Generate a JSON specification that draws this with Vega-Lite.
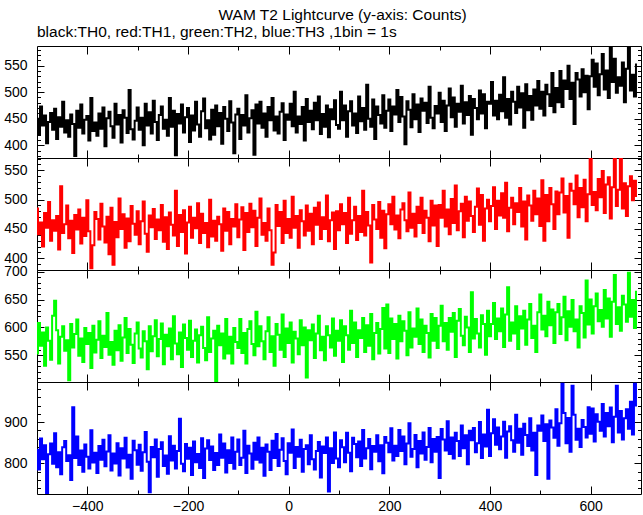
{
"$schema": "https://vega.github.io/schema/vega-lite/v6.json",
"background": "white",
"padding": {"left": 3, "top": 8, "right": 2, "bottom": 0},
"title": {"text": "WAM T2 Lightcurve (y-axis: Counts)", "anchor": "middle", "dx": 20, "fontSize": 15.5, "fontWeight": "normal", "font": "Liberation Sans", "color": "black", "offset": 1},
"data": {"values": [
{"t":-500,"a":450,"b":485,"c":553,"d":833},{"t":-496,"a":420,"b":441,"c":608,"d":785},{"t":-492,"a":473,"b":461,"c":567,"d":860},{"t":-488,"a":437,"b":420,"c":591,"d":810},{"t":-484,"a":456,"b":477,"c":531,"d":844},
{"t":-480,"a":404,"b":452,"c":600,"d":728},{"t":-476,"a":444,"b":496,"c":576,"d":822},{"t":-472,"a":461,"b":430,"c":542,"d":848},{"t":-468,"a":429,"b":465,"c":621,"d":799},{"t":-464,"a":469,"b":447,"c":648,"d":873},
{"t":-460,"a":412,"b":472,"c":595,"d":791},{"t":-456,"a":453,"b":415,"c":535,"d":827},{"t":-452,"a":435,"b":523,"c":583,"d":774},{"t":-448,"a":482,"b":443,"c":602,"d":839},{"t":-444,"a":424,"b":458,"c":558,"d":854},
{"t":-440,"a":447,"b":490,"c":577,"d":806},{"t":-436,"a":416,"b":434,"c":505,"d":820},{"t":-432,"a":458,"b":464,"c":606,"d":760},{"t":-428,"a":440,"b":409,"c":564,"d":936},{"t":-424,"a":380,"b":474,"c":588,"d":813},
{"t":-420,"a":465,"b":449,"c":614,"d":865},{"t":-416,"a":433,"b":483,"c":549,"d":796},{"t":-412,"a":477,"b":425,"c":580,"d":831},{"t":-408,"a":422,"b":469,"c":538,"d":780},{"t":-404,"a":448,"b":438,"c":599,"d":846},
{"t":-400,"a":455,"b":499,"c":570,"d":816},{"t":-396,"a":409,"b":446,"c":590,"d":788},{"t":-392,"a":489,"b":383,"c":527,"d":880},{"t":-388,"a":427,"b":422,"c":603,"d":802},{"t":-384,"a":443,"b":479,"c":555,"d":826},
{"t":-380,"a":418,"b":467,"c":578,"d":777},{"t":-376,"a":460,"b":432,"c":611,"d":842},{"t":-372,"a":431,"b":493,"c":545,"d":809},{"t":-368,"a":471,"b":454,"c":585,"d":857},{"t":-364,"a":398,"b":427,"c":565,"d":793},
{"t":-360,"a":451,"b":471,"c":626,"d":829},{"t":-356,"a":463,"b":407,"c":551,"d":868},{"t":-352,"a":436,"b":486,"c":574,"d":783},{"t":-348,"a":414,"b":389,"c":533,"d":824},{"t":-344,"a":478,"b":462,"c":594,"d":800},
{"t":-340,"a":439,"b":436,"c":559,"d":849},{"t":-336,"a":457,"b":502,"c":604,"d":771},{"t":-332,"a":405,"b":450,"c":540,"d":837},{"t":-328,"a":466,"b":475,"c":582,"d":812},{"t":-324,"a":452,"b":418,"c":617,"d":862},
{"t":-320,"a":423,"b":468,"c":554,"d":790},{"t":-316,"a":504,"b":429,"c":597,"d":821},{"t":-312,"a":430,"b":489,"c":569,"d":763},{"t":-308,"a":411,"b":459,"c":536,"d":855},{"t":-304,"a":446,"b":440,"c":589,"d":832},
{"t":-300,"a":471,"b":480,"c":609,"d":797},{"t":-296,"a":429,"b":424,"c":562,"d":845},{"t":-292,"a":452,"b":463,"c":546,"d":782},{"t":-288,"a":400,"b":497,"c":593,"d":827},{"t":-284,"a":478,"b":442,"c":575,"d":876},
{"t":-280,"a":437,"b":411,"c":525,"d":804},{"t":-276,"a":462,"b":473,"c":602,"d":730},{"t":-272,"a":422,"b":453,"c":557,"d":840},{"t":-268,"a":484,"b":484,"c":584,"d":815},{"t":-264,"a":444,"b":433,"c":613,"d":858},
{"t":-260,"a":410,"b":466,"c":548,"d":768},{"t":-256,"a":457,"b":448,"c":579,"d":835},{"t":-252,"a":473,"b":491,"c":607,"d":851},{"t":-248,"a":431,"b":428,"c":534,"d":794},{"t":-244,"a":448,"b":470,"c":587,"d":819},
{"t":-240,"a":418,"b":416,"c":566,"d":775},{"t":-236,"a":489,"b":478,"c":598,"d":866},{"t":-232,"a":435,"b":457,"c":543,"d":807},{"t":-228,"a":465,"b":439,"c":620,"d":843},{"t":-224,"a":381,"b":515,"c":571,"d":788},
{"t":-220,"a":459,"b":421,"c":552,"d":830},{"t":-216,"a":441,"b":474,"c":591,"d":908},{"t":-212,"a":477,"b":445,"c":529,"d":799},{"t":-208,"a":424,"b":482,"c":605,"d":781},{"t":-204,"a":453,"b":408,"c":581,"d":847},
{"t":-200,"a":470,"b":461,"c":560,"d":811},{"t":-196,"a":406,"b":488,"c":612,"d":838},{"t":-192,"a":456,"b":435,"c":547,"d":772},{"t":-188,"a":428,"b":469,"c":576,"d":853},{"t":-184,"a":482,"b":451,"c":596,"d":803},
{"t":-180,"a":439,"b":494,"c":537,"d":823},{"t":-176,"a":416,"b":426,"c":586,"d":789},{"t":-172,"a":464,"b":476,"c":601,"d":861},{"t":-168,"a":488,"b":443,"c":563,"d":765},{"t":-164,"a":432,"b":460,"c":541,"d":836},
{"t":-160,"a":447,"b":419,"c":618,"d":856},{"t":-156,"a":411,"b":500,"c":556,"d":808},{"t":-152,"a":467,"b":437,"c":580,"d":841},{"t":-148,"a":420,"b":464,"c":594,"d":784},{"t":-144,"a":475,"b":430,"c":503,"d":825},
{"t":-140,"a":436,"b":471,"c":603,"d":796},{"t":-136,"a":461,"b":458,"c":568,"d":870},{"t":-132,"a":403,"b":413,"c":589,"d":814},{"t":-128,"a":472,"b":485,"c":544,"d":848},{"t":-124,"a":450,"b":447,"c":615,"d":778},
{"t":-120,"a":427,"b":479,"c":553,"d":832},{"t":-116,"a":483,"b":424,"c":583,"d":801},{"t":-112,"a":443,"b":467,"c":535,"d":863},{"t":-108,"a":385,"b":454,"c":599,"d":787},{"t":-104,"a":458,"b":492,"c":574,"d":828},
{"t":-100,"a":469,"b":436,"c":563,"d":858},{"t":-96,"a":412,"b":466,"c":615,"d":796},{"t":-92,"a":457,"b":487,"c":554,"d":814},{"t":-88,"a":437,"b":414,"c":590,"d":879},{"t":-84,"a":494,"b":477,"c":535,"d":777},
{"t":-80,"a":424,"b":445,"c":597,"d":843},{"t":-76,"a":451,"b":493,"c":611,"d":824},{"t":-72,"a":466,"b":453,"c":570,"d":787},{"t":-68,"a":382,"b":481,"c":550,"d":850},{"t":-64,"a":477,"b":421,"c":628,"d":809},
{"t":-60,"a":441,"b":469,"c":566,"d":863},{"t":-56,"a":482,"b":502,"c":602,"d":802},{"t":-52,"a":433,"b":440,"c":575,"d":838},{"t":-48,"a":460,"b":460,"c":543,"d":770},{"t":-44,"a":416,"b":430,"c":593,"d":846},
{"t":-40,"a":472,"b":485,"c":618,"d":828},{"t":-36,"a":447,"b":448,"c":556,"d":784},{"t":-32,"a":489,"b":389,"c":584,"d":855},{"t":-28,"a":428,"b":410,"c":531,"d":813},{"t":-24,"a":454,"b":491,"c":606,"d":871},
{"t":-20,"a":422,"b":455,"c":587,"d":794},{"t":-16,"a":463,"b":479,"c":560,"d":833},{"t":-12,"a":479,"b":426,"c":623,"d":861},{"t":-8,"a":410,"b":498,"c":547,"d":806},{"t":-4,"a":458,"b":443,"c":598,"d":774},
{"t":0,"a":448,"b":467,"c":572,"d":849},{"t":4,"a":478,"b":435,"c":609,"d":826},{"t":8,"a":436,"b":505,"c":537,"d":882},{"t":12,"a":501,"b":452,"c":592,"d":789},{"t":16,"a":424,"b":472,"c":580,"d":840},
{"t":20,"a":454,"b":418,"c":552,"d":816},{"t":24,"a":440,"b":482,"c":613,"d":857},{"t":28,"a":472,"b":463,"c":568,"d":780},{"t":32,"a":409,"b":439,"c":600,"d":835},{"t":36,"a":487,"b":490,"c":510,"d":844},
{"t":40,"a":444,"b":447,"c":595,"d":798},{"t":44,"a":465,"b":476,"c":577,"d":868},{"t":48,"a":430,"b":424,"c":605,"d":810},{"t":52,"a":480,"b":486,"c":545,"d":785},{"t":56,"a":447,"b":457,"c":589,"d":830},
{"t":60,"a":492,"b":495,"c":621,"d":852},{"t":64,"a":421,"b":433,"c":559,"d":766},{"t":68,"a":459,"b":470,"c":583,"d":841},{"t":72,"a":435,"b":450,"c":541,"d":825},{"t":76,"a":475,"b":507,"c":602,"d":863},
{"t":80,"a":415,"b":429,"c":586,"d":732},{"t":84,"a":468,"b":465,"c":564,"d":837},{"t":88,"a":449,"b":478,"c":616,"d":801},{"t":92,"a":485,"b":416,"c":549,"d":875},{"t":96,"a":438,"b":480,"c":594,"d":812},
{"t":100,"a":431,"b":448,"c":576,"d":791},{"t":104,"a":501,"b":492,"c":613,"d":856},{"t":108,"a":447,"b":458,"c":538,"d":839},{"t":112,"a":475,"b":477,"c":602,"d":803},{"t":116,"a":416,"b":426,"c":586,"d":874},
{"t":120,"a":464,"b":503,"c":560,"d":826},{"t":124,"a":483,"b":442,"c":630,"d":781},{"t":128,"a":437,"b":465,"c":572,"d":862},{"t":132,"a":460,"b":488,"c":609,"d":847},{"t":136,"a":423,"b":431,"c":547,"d":815},
{"t":140,"a":492,"b":472,"c":595,"d":853},{"t":144,"a":445,"b":445,"c":581,"d":794},{"t":148,"a":470,"b":515,"c":617,"d":881},{"t":152,"a":429,"b":439,"c":556,"d":812},{"t":156,"a":514,"b":479,"c":604,"d":837},
{"t":160,"a":450,"b":456,"c":567,"d":859},{"t":164,"a":435,"b":393,"c":624,"d":786},{"t":168,"a":486,"b":491,"c":543,"d":842},{"t":172,"a":412,"b":466,"c":590,"d":828},{"t":176,"a":473,"b":450,"c":608,"d":868},
{"t":180,"a":457,"b":496,"c":553,"d":805},{"t":184,"a":441,"b":435,"c":597,"d":844},{"t":188,"a":494,"b":481,"c":635,"d":776},{"t":192,"a":433,"b":417,"c":562,"d":864},{"t":196,"a":465,"b":475,"c":641,"d":850},
{"t":200,"a":486,"b":492,"c":554,"d":827},{"t":204,"a":427,"b":458,"c":616,"d":885},{"t":208,"a":473,"b":505,"c":579,"d":807},{"t":212,"a":458,"b":449,"c":606,"d":843},{"t":216,"a":504,"b":473,"c":544,"d":818},
{"t":220,"a":444,"b":434,"c":621,"d":881},{"t":224,"a":491,"b":483,"c":575,"d":830},{"t":228,"a":454,"b":494,"c":611,"d":865},{"t":232,"a":402,"b":465,"c":594,"d":798},{"t":236,"a":483,"b":446,"c":550,"d":848},
{"t":240,"a":467,"b":512,"c":627,"d":897},{"t":244,"a":434,"b":452,"c":564,"d":816},{"t":248,"a":496,"b":476,"c":598,"d":835},{"t":252,"a":449,"b":437,"c":583,"d":869},{"t":256,"a":477,"b":488,"c":634,"d":791},
{"t":260,"a":425,"b":460,"c":570,"d":854},{"t":264,"a":488,"b":503,"c":614,"d":824},{"t":268,"a":465,"b":443,"c":556,"d":875},{"t":272,"a":480,"b":481,"c":603,"d":809},{"t":276,"a":442,"b":469,"c":590,"d":840},
{"t":280,"a":510,"b":429,"c":546,"d":886},{"t":284,"a":452,"b":498,"c":624,"d":803},{"t":288,"a":432,"b":456,"c":576,"d":859},{"t":292,"a":474,"b":490,"c":617,"d":828},{"t":296,"a":460,"b":421,"c":563,"d":864},
{"t":300,"a":499,"b":491,"c":603,"d":765},{"t":304,"a":444,"b":469,"c":639,"d":883},{"t":308,"a":484,"b":515,"c":575,"d":858},{"t":312,"a":427,"b":454,"c":608,"d":831},{"t":316,"a":475,"b":483,"c":560,"d":902},
{"t":320,"a":507,"b":441,"c":617,"d":823},{"t":324,"a":453,"b":501,"c":592,"d":863},{"t":328,"a":490,"b":460,"c":626,"d":812},{"t":332,"a":435,"b":524,"c":547,"d":874},{"t":336,"a":478,"b":448,"c":612,"d":854},
{"t":340,"a":463,"b":480,"c":633,"d":818},{"t":344,"a":512,"b":493,"c":585,"d":892},{"t":348,"a":441,"b":436,"c":568,"d":837},{"t":352,"a":481,"b":505,"c":619,"d":868},{"t":356,"a":457,"b":464,"c":600,"d":798},
{"t":360,"a":493,"b":497,"c":556,"d":879},{"t":364,"a":420,"b":472,"c":663,"d":856},{"t":368,"a":487,"b":445,"c":580,"d":886},{"t":372,"a":470,"b":488,"c":615,"d":827},{"t":376,"a":449,"b":519,"c":589,"d":849},
{"t":380,"a":503,"b":457,"c":564,"d":900},{"t":384,"a":460,"b":508,"c":622,"d":813},{"t":388,"a":496,"b":430,"c":606,"d":870},{"t":392,"a":432,"b":485,"c":551,"d":841},{"t":396,"a":482,"b":500,"c":630,"d":930},
{"t":400,"a":478,"b":463,"c":584,"d":818},{"t":404,"a":519,"b":489,"c":606,"d":873},{"t":408,"a":456,"b":521,"c":644,"d":907},{"t":412,"a":484,"b":450,"c":579,"d":845},{"t":416,"a":449,"b":498,"c":616,"d":887},
{"t":420,"a":495,"b":473,"c":593,"d":834},{"t":424,"a":464,"b":511,"c":634,"d":865},{"t":428,"a":528,"b":469,"c":565,"d":901},{"t":432,"a":452,"b":529,"c":623,"d":814},{"t":436,"a":487,"b":446,"c":672,"d":877},
{"t":440,"a":439,"b":486,"c":576,"d":890},{"t":444,"a":501,"b":503,"c":609,"d":856},{"t":448,"a":482,"b":458,"c":589,"d":828},{"t":452,"a":461,"b":494,"c":638,"d":918},{"t":456,"a":510,"b":479,"c":561,"d":850},
{"t":460,"a":471,"b":520,"c":620,"d":884},{"t":464,"a":498,"b":454,"c":598,"d":821},{"t":468,"a":433,"b":497,"c":630,"d":896},{"t":472,"a":515,"b":432,"c":569,"d":869},{"t":476,"a":466,"b":507,"c":614,"d":842},
{"t":480,"a":493,"b":490,"c":642,"d":909},{"t":484,"a":448,"b":464,"c":581,"d":831},{"t":488,"a":505,"b":515,"c":603,"d":874},{"t":492,"a":475,"b":475,"c":556,"d":772},{"t":496,"a":521,"b":502,"c":627,"d":892},
{"t":500,"a":469,"b":455,"c":659,"d":879},{"t":504,"a":501,"b":533,"c":596,"d":916},{"t":508,"a":456,"b":430,"c":621,"d":854},{"t":512,"a":514,"b":508,"c":584,"d":895},{"t":516,"a":496,"b":463,"c":646,"d":763},
{"t":520,"a":474,"b":520,"c":604,"d":904},{"t":524,"a":536,"b":492,"c":632,"d":887},{"t":528,"a":462,"b":450,"c":572,"d":862},{"t":532,"a":508,"b":514,"c":627,"d":931},{"t":536,"a":481,"b":475,"c":642,"d":843},
{"t":540,"a":540,"b":512,"c":588,"d":897},{"t":544,"a":472,"b":536,"c":618,"d":993},{"t":548,"a":522,"b":478,"c":655,"d":922},{"t":552,"a":506,"b":506,"c":577,"d":849},{"t":556,"a":550,"b":435,"c":629,"d":910},
{"t":560,"a":487,"b":527,"c":601,"d":828},{"t":564,"a":518,"b":515,"c":649,"d":988},{"t":568,"a":440,"b":492,"c":593,"d":918},{"t":572,"a":536,"b":541,"c":614,"d":857},{"t":576,"a":524,"b":470,"c":564,"d":884},
{"t":580,"a":492,"b":520,"c":638,"d":840},{"t":584,"a":543,"b":487,"c":626,"d":905},{"t":588,"a":500,"b":534,"c":582,"d":888},{"t":592,"a":531,"b":463,"c":684,"d":863},{"t":596,"a":468,"b":509,"c":605,"d":936},
{"t":600,"a":530,"b":572,"c":650,"d":872},{"t":604,"a":561,"b":491,"c":589,"d":933},{"t":608,"a":510,"b":513,"c":638,"d":853},{"t":612,"a":554,"b":482,"c":661,"d":919},{"t":616,"a":494,"b":535,"c":611,"d":901},
{"t":620,"a":534,"b":504,"c":631,"d":879},{"t":624,"a":572,"b":549,"c":601,"d":944},{"t":628,"a":505,"b":477,"c":667,"d":865},{"t":632,"a":541,"b":526,"c":616,"d":922},{"t":636,"a":489,"b":538,"c":652,"d":890},
{"t":640,"a":587,"b":468,"c":583,"d":935},{"t":644,"a":519,"b":521,"c":646,"d":851},{"t":648,"a":563,"b":571,"c":694,"d":913},{"t":652,"a":499,"b":489,"c":606,"d":988},{"t":656,"a":528,"b":517,"c":636,"d":875},
{"t":660,"a":512,"b":572,"c":594,"d":927},{"t":664,"a":556,"b":485,"c":657,"d":858},{"t":668,"a":481,"b":528,"c":641,"d":909},{"t":672,"a":544,"b":472,"c":610,"d":931},{"t":676,"a":585,"b":523,"c":698,"d":884},
{"t":680,"a":503,"b":540,"c":619,"d":949},{"t":684,"a":533,"b":499,"c":649,"d":870},{"t":688,"a":492,"b":532,"c":599,"d":993},{"t":692,"a":552,"b":506,"c":664,"d":940}
]},
"spacing": 0,
"bounds": "flush",
"config": {
  "view": {"stroke": "black", "strokeWidth": 1},
  "font": "Liberation Sans",
  "axis": {"domain": false, "grid": false, "labelFont": "Liberation Sans", "labelFontSize": 14, "labelColor": "black", "tickColor": "black", "tickWidth": 1, "labelFlush": false, "labelOverlap": false, "labelBound": false}
},
"vconcat": [
{
  "width": 604, "height": 112,
  "title": {"text": "black:TH0, red:TH1, green:TH2, blue:TH3 ,1bin = 1s", "anchor": "start", "frame": "group", "fontSize": 15.5, "fontWeight": "normal", "font": "Liberation Sans", "color": "black", "offset": 2},
  "layer": [
    {"mark": {"type": "line", "interpolate": "step", "color": "black", "strokeWidth": 2, "clip": true},
     "encoding": {
       "x": {"field": "t", "type": "quantitative", "title": null, "scale": {"domain": [-500, 700], "nice": false, "zero": false},
             "axis": {"orient": "bottom", "values": [-400,-300,-200,-100,0,100,200,300,400,500,600], "labels": false, "tickSize": {"expr": "datum.value % 200 === 0 ? -8 : -4"}}},
       "y": {"field": "a", "type": "quantitative", "title": null, "scale": {"domain": [376, 587], "nice": false, "zero": false},
             "axis": {"orient": "left", "values": [380,390,400,410,420,430,440,450,460,470,480,490,500,510,520,530,540,550,560,570,580], "labelExpr": "datum.value % 50 === 0 ? datum.label : ''", "tickSize": {"expr": "datum.value % 50 === 0 ? -7 : -3.5"}, "labelPadding": 17}}
     }},
    {"mark": {"type": "line", "opacity": 0},
     "encoding": {
       "x": {"field": "t", "type": "quantitative", "title": null, "scale": {"domain": [-500, 700], "nice": false, "zero": false},
             "axis": {"orient": "top", "values": [-400,-300,-200,-100,0,100,200,300,400,500,600], "labels": false, "tickSize": {"expr": "datum.value % 200 === 0 ? -8 : -4"}}},
       "y": {"field": "a", "type": "quantitative", "title": null, "scale": {"domain": [376, 587], "nice": false, "zero": false},
             "axis": {"orient": "right", "values": [380,390,400,410,420,430,440,450,460,470,480,490,500,510,520,530,540,550,560,570,580], "labels": false, "tickSize": {"expr": "datum.value % 50 === 0 ? -7 : -3.5"}}}
     }}
  ],
  "resolve": {"axis": {"x": "independent", "y": "independent"}}
},
{
  "width": 604, "height": 112,
  "layer": [
    {"mark": {"type": "line", "interpolate": "step", "color": "#ff0000", "strokeWidth": 2, "clip": true},
     "encoding": {
       "x": {"field": "t", "type": "quantitative", "title": null, "scale": {"domain": [-500, 700], "nice": false, "zero": false},
             "axis": {"orient": "bottom", "values": [-400,-300,-200,-100,0,100,200,300,400,500,600], "labels": false, "tickSize": {"expr": "datum.value % 200 === 0 ? -8 : -4"}}},
       "y": {"field": "b", "type": "quantitative", "title": null, "scale": {"domain": [380, 571], "nice": false, "zero": false},
             "axis": {"orient": "left", "values": [390,400,410,420,430,440,450,460,470,480,490,500,510,520,530,540,550,560,570], "labelExpr": "datum.value % 50 === 0 ? datum.label : ''", "tickSize": {"expr": "datum.value % 50 === 0 ? -7 : -3.5"}, "labelPadding": 17}}
     }},
    {"mark": {"type": "line", "opacity": 0},
     "encoding": {
       "x": {"field": "t", "type": "quantitative", "title": null, "scale": {"domain": [-500, 700], "nice": false, "zero": false},
             "axis": {"orient": "top", "values": [-400,-300,-200,-100,0,100,200,300,400,500,600], "labels": false, "tickSize": {"expr": "datum.value % 200 === 0 ? -8 : -4"}}},
       "y": {"field": "b", "type": "quantitative", "title": null, "scale": {"domain": [380, 571], "nice": false, "zero": false},
             "axis": {"orient": "right", "values": [390,400,410,420,430,440,450,460,470,480,490,500,510,520,530,540,550,560,570], "labels": false, "tickSize": {"expr": "datum.value % 50 === 0 ? -7 : -3.5"}}}
     }}
  ],
  "resolve": {"axis": {"x": "independent", "y": "independent"}}
},
{
  "width": 604, "height": 112,
  "layer": [
    {"mark": {"type": "line", "interpolate": "step", "color": "#00ff00", "strokeWidth": 2, "clip": true},
     "encoding": {
       "x": {"field": "t", "type": "quantitative", "title": null, "scale": {"domain": [-500, 700], "nice": false, "zero": false},
             "axis": {"orient": "bottom", "values": [-400,-300,-200,-100,0,100,200,300,400,500,600], "labels": false, "tickSize": {"expr": "datum.value % 200 === 0 ? -8 : -4"}}},
       "y": {"field": "c", "type": "quantitative", "title": null, "scale": {"domain": [502, 703], "nice": false, "zero": false},
             "axis": {"orient": "left", "values": [510,520,530,540,550,560,570,580,590,600,610,620,630,640,650,660,670,680,690,700], "labelExpr": "datum.value % 50 === 0 ? datum.label : ''", "tickSize": {"expr": "datum.value % 50 === 0 ? -7 : -3.5"}, "labelPadding": 17}}
     }},
    {"mark": {"type": "line", "opacity": 0},
     "encoding": {
       "x": {"field": "t", "type": "quantitative", "title": null, "scale": {"domain": [-500, 700], "nice": false, "zero": false},
             "axis": {"orient": "top", "values": [-400,-300,-200,-100,0,100,200,300,400,500,600], "labels": false, "tickSize": {"expr": "datum.value % 200 === 0 ? -8 : -4"}}},
       "y": {"field": "c", "type": "quantitative", "title": null, "scale": {"domain": [502, 703], "nice": false, "zero": false},
             "axis": {"orient": "right", "values": [510,520,530,540,550,560,570,580,590,600,610,620,630,640,650,660,670,680,690,700], "labels": false, "tickSize": {"expr": "datum.value % 50 === 0 ? -7 : -3.5"}}}
     }}
  ],
  "resolve": {"axis": {"x": "independent", "y": "independent"}}
},
{
  "width": 604, "height": 112,
  "layer": [
    {"mark": {"type": "line", "interpolate": "step", "color": "#0000ff", "strokeWidth": 2, "clip": true},
     "encoding": {
       "x": {"field": "t", "type": "quantitative", "title": null, "scale": {"domain": [-500, 700], "nice": false, "zero": false},
             "axis": {"orient": "bottom", "values": [-400,-300,-200,-100,0,100,200,300,400,500,600], "labelExpr": "datum.value % 200 === 0 ? datum.label : ''", "tickSize": {"expr": "datum.value % 200 === 0 ? -8 : -4"}, "labelPadding": 13}},
       "y": {"field": "d", "type": "quantitative", "title": null, "scale": {"domain": [726, 997], "nice": false, "zero": false},
             "axis": {"orient": "left", "values": [740,760,780,800,820,840,860,880,900,920,940,960,980], "labelExpr": "datum.value % 100 === 0 ? datum.label : ''", "tickSize": {"expr": "datum.value % 100 === 0 ? -7 : -3.5"}, "labelPadding": 17}}
     }},
    {"mark": {"type": "line", "opacity": 0},
     "encoding": {
       "x": {"field": "t", "type": "quantitative", "title": null, "scale": {"domain": [-500, 700], "nice": false, "zero": false},
             "axis": {"orient": "top", "values": [-400,-300,-200,-100,0,100,200,300,400,500,600], "labels": false, "tickSize": {"expr": "datum.value % 200 === 0 ? -8 : -4"}}},
       "y": {"field": "d", "type": "quantitative", "title": null, "scale": {"domain": [726, 997], "nice": false, "zero": false},
             "axis": {"orient": "right", "values": [740,760,780,800,820,840,860,880,900,920,940,960,980], "labels": false, "tickSize": {"expr": "datum.value % 100 === 0 ? -7 : -3.5"}}}
     }}
  ],
  "resolve": {"axis": {"x": "independent", "y": "independent"}}
}
]
}
